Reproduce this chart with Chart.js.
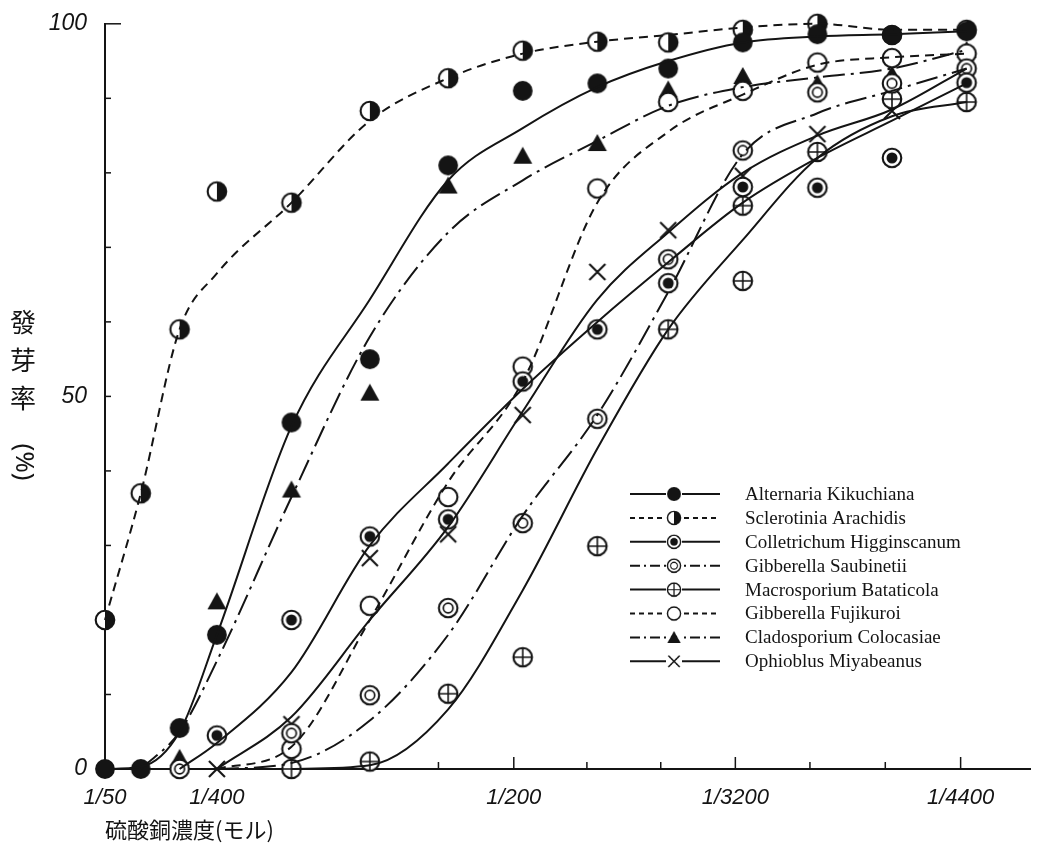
<!DOCTYPE html>
<html>
<head>
<meta charset="utf-8">
<script src="https://cdn.jsdelivr.net/npm/chart.js@4.4.1/dist/chart.umd.min.js"></script>
<style>
  html, body { margin: 0; padding: 0; background: #fff; }
  canvas { display: block; }
</style>
</head>
<body>
<canvas id="germChart" width="1045" height="851"></canvas>
<script>
// x position of every tested dilution (axis units)
const concPos = [0, 0.48, 1.0, 1.5, 2.5, 3.55, 4.6, 5.6, 6.6, 7.55, 8.55, 9.55, 10.55, 11.55];
const tickPos = [0, 1.5, 4.47, 5.48, 6.46, 7.45, 8.45, 9.45, 10.46, 11.47];
const tickLabels = ['1/50', '1/400', '', '1/200', '', '', '1/3200', '', '', '1/4400'];
const yLabels = [0, 50, 100];

const names = [
    'Alternaria Kikuchiana', 'Sclerotinia Arachidis', 'Colletrichum Higginscanum',
    'Gibberella Saubinetii', 'Macrosporium Bataticola', 'Gibberella Fujikuroi',
    'Cladosporium Colocasiae', 'Ophioblus Miyabeanus'
];

// observed germination rate (%)
const alternariaPts   = [0, 0, 5.5, 18, 46.5, 55, 81, 91, 92, 94, 97.5, 98.6, 98.5, 99];
const sclerotiniaPts  = [20, 37, 59, 77.5, 76, 88.3, 92.7, 96.4, 97.6, 97.5, 99.2, 100, 98.5, 99.2];
const colletrichumPts = [null, null, null, 4.5, 20, 31.2, 33.5, 52, 59, 65.2, 78.1, 78, 82, 92.1];
const saubinetiiPts   = [null, null, 0, null, 4.8, 9.9, 21.6, 33, 47, 68.4, 83, 90.8, 92, 94];
const macrosporiumPts = [null, null, null, null, 0, 1, 10.1, 15, 29.9, 59, 75.6, 82.8, 89.9, 89.5];
const macrosporiumExtra = [null, null, null, null, null, null, null, null, null, null, 65.5, null, null, null];
const fujikuroiPts    = [null, null, null, null, 2.7, 21.9, 36.5, 54, 77.9, 89.5, 91, 94.8, 95.4, 96];
const cladosporiumPts = [null, null, 1.5, 22.5, 37.5, 50.5, 78.3, 82.3, 84, 91.2, 93, 92, 93.2, 96.5];
const ophiobolusPts   = [null, null, null, 0, 6, 28.3, 31.5, 47.5, 66.7, 72.3, 79.6, 85.2, 88.3, 95];

// hand drawn curves of the original, read at the same dilutions
const alternariaCurve   = [0, 0.3, 5, 18, 46, 63, 79, 86, 91.5, 95, 97.5, 98.3, 98.6, 99];
const sclerotiniaCurve  = [20, 37, 59, 66.5, 76, 87, 92.7, 96, 97.6, 98.5, 99.5, 100, 99.2, 99.2];
const colletrichumCurve = [null, null, 0, 3.5, 13, 30, 41, 51, 60, 68, 76, 82, 87, 92];
const saubinetiiCurve   = [null, null, null, 0, 0.8, 6.5, 18, 34, 47.5, 64, 82.5, 88, 91, 94];
const macrosporiumCurve = [null, null, null, null, 0, 0.5, 8, 24, 43, 59, 71, 82, 87.6, 89.5];
const fujikuroiCurve    = [null, null, null, 0, 3, 20, 38.5, 52, 76, 85.5, 90.5, 94.5, 95.5, 96];
const cladosporiumCurve = [null, 0, 5, 14.5, 36.5, 58, 72, 79, 84.3, 89, 91.5, 92.8, 94, 96.5];
const ophiobolusCurve   = [null, null, null, 0, 7, 20, 32.5, 48, 63, 72, 80, 85, 88.5, 94];

const ink = '#141414';

function makeMarker(kind) {
    const c = document.createElement('canvas');
    c.width = c.height = 24;
    const g = c.getContext('2d');
    const m = 12, r = 9.3;
    g.strokeStyle = ink;
    g.fillStyle = ink;
    g.lineWidth = 2.1;
    const circle = rr => { g.beginPath(); g.arc(m, m, rr, 0, Math.PI * 2); };
    if (kind === 'dot') {
        circle(r + 0.6); g.fill();
    } else if (kind === 'tri') {
        g.beginPath(); g.moveTo(m, 3); g.lineTo(m - 9.5, m + 8); g.lineTo(m + 9.5, m + 8); g.closePath(); g.fill();
    } else if (kind === 'x') {
        g.beginPath(); g.moveTo(m - 8, m - 8); g.lineTo(m + 8, m + 8); g.moveTo(m + 8, m - 8); g.lineTo(m - 8, m + 8); g.stroke();
    } else {
        g.fillStyle = '#fff'; circle(r); g.fill();
        g.fillStyle = ink;
        if (kind === 'half') {
            g.beginPath(); g.arc(m, m, r, -Math.PI / 2, Math.PI / 2); g.closePath(); g.fill();
        }
        circle(r); g.stroke();
        if (kind === 'bull') { circle(5.5); g.fill(); }
        if (kind === 'ring') { g.lineWidth = 1.7; circle(4.8); g.stroke(); }
        if (kind === 'plus') {
            g.lineWidth = 1.6;
            g.beginPath(); g.moveTo(m - r, m); g.lineTo(m + r, m); g.moveTo(m, m - r); g.lineTo(m, m + r); g.stroke();
        }
    }
    return c;
}

const solid = [], dashed = [9, 6], dashDot = [22, 6, 3, 6];
const styles = [
    { mk: 'dot',  dash: solid,   legendDash: solid },
    { mk: 'half', dash: dashed,  legendDash: [5, 4] },
    { mk: 'bull', dash: solid,   legendDash: solid },
    { mk: 'ring', dash: dashDot, legendDash: [10, 4, 2, 4] },
    { mk: 'plus', dash: solid,   legendDash: solid },
    { mk: 'open', dash: dashed,  legendDash: [5, 4] },
    { mk: 'tri',  dash: dashDot, legendDash: [10, 4, 2, 4] },
    { mk: 'x',    dash: solid,   legendDash: solid }
];
styles.forEach(s => { s.img = makeMarker(s.mk); });

const curves = [alternariaCurve, sclerotiniaCurve, colletrichumCurve, saubinetiiCurve,
                macrosporiumCurve, fujikuroiCurve, cladosporiumCurve, ophiobolusCurve];
const points = [alternariaPts, sclerotiniaPts, colletrichumPts, saubinetiiPts,
                macrosporiumPts, fujikuroiPts, cladosporiumPts, ophiobolusPts];

const toXY = arr => concPos.map((x, i) => ({ x: x, y: arr[i] })).filter(p => p.y !== null);

const datasets = [];
curves.forEach((arr, i) => {
    datasets.push({
        label: names[i] + ' curve',
        data: toXY(arr),
        borderColor: ink,
        borderWidth: 2,
        borderDash: styles[i].dash,
        pointRadius: 0,
        cubicInterpolationMode: 'monotone',
        fill: false,
        clip: false
    });
});
points.forEach((arr, i) => {
    datasets.push({
        label: names[i],
        data: toXY(arr),
        showLine: false,
        pointStyle: styles[i].img,
        pointRadius: 10,
        clip: false
    });
});
datasets.push({
    label: names[4] + ' extra',
    data: toXY(macrosporiumExtra),
    showLine: false,
    pointStyle: styles[4].img,
    pointRadius: 10,
    clip: false
});

const decor = {
    id: 'decor',
    afterDraw(chart) {
        const { ctx, scales: { x, y } } = chart;
        ctx.save();
        ctx.strokeStyle = ink;
        ctx.fillStyle = ink;
        ctx.lineWidth = 1.5;
        ctx.setLineDash([]);
        // inward tick marks
        for (let v = 10; v <= 100; v += 10) {
            const py = y.getPixelForValue(v);
            ctx.beginPath();
            ctx.moveTo(x.left, py);
            ctx.lineTo(x.left + (v === 100 ? 16 : 6), py);
            ctx.stroke();
        }
        tickPos.forEach((v, i) => {
            if (i < 2) return;
            const px = x.getPixelForValue(v);
            ctx.beginPath();
            ctx.moveTo(px, y.bottom);
            ctx.lineTo(px, y.bottom - (tickLabels[i] ? 12 : 7));
            ctx.stroke();
        });

        // vertical y title
        ctx.font = '26px "Noto Sans CJK TC"';
        ctx.textAlign = 'center';
        ctx.textBaseline = 'middle';
        ['發', '芽', '率'].forEach((ch, i) => ctx.fillText(ch, 23, 322 + i * 38));
        ctx.save();
        ctx.translate(23, 462);
        ctx.rotate(Math.PI / 2);
        ctx.font = '26px "Noto Sans"';
        ctx.fillText('(%)', 0, 0);
        ctx.restore();

        // legend
        ctx.font = '19px "Liberation Serif"';
        ctx.textAlign = 'left';
        names.forEach((name, i) => {
            const ly = 494 + i * 23.9;
            const st = styles[i];
            ctx.lineWidth = 2;
            ctx.setLineDash(st.legendDash);
            ctx.beginPath();
            ctx.moveTo(630, ly);
            ctx.lineTo(720, ly);
            ctx.stroke();
            ctx.setLineDash([]);
            ctx.fillStyle = '#fff';
            ctx.fillRect(666, ly - 8, 16, 16);
            ctx.drawImage(st.img, 674 - 8.5, ly - 8.5, 17, 17);
            ctx.fillStyle = ink;
            ctx.fillText(name, 745, ly + 1);
        });
        ctx.restore();
    }
};

new Chart(document.getElementById('germChart').getContext('2d'), {
    type: 'line',
    data: { datasets: datasets },
    options: {
        responsive: false,
        animation: false,
        layout: { padding: { top: 19, right: 15, left: 0, bottom: 0 } },
        plugins: { legend: { display: false }, tooltip: { enabled: false } },
        scales: {
            x: {
                type: 'linear',
                min: 0,
                max: 12.4,
                afterBuildTicks: s => { s.ticks = tickPos.map(v => ({ value: v })); },
                afterFit: s => { s.height = 82; },
                grid: { display: false },
                border: { color: ink, width: 2 },
                ticks: {
                    autoSkip: false,
                    maxRotation: 0,
                    padding: 8,
                    color: ink,
                    font: { family: 'Liberation Sans', size: 22, style: 'italic' },
                    callback: (v, i) => tickLabels[i]
                },
                title: {
                    display: true,
                    text: '硫酸銅濃度(モル)',
                    align: 'start',
                    color: ink,
                    font: { family: 'Noto Sans CJK JP', size: 22 },
                    padding: { top: 0, bottom: 8 }
                }
            },
            y: {
                min: 0,
                max: 100,
                afterBuildTicks: s => { s.ticks = yLabels.map(v => ({ value: v })); },
                afterFit: s => { s.width = 105; },
                grid: { display: false },
                border: { color: ink, width: 2 },
                ticks: {
                    padding: 10,
                    color: ink,
                    font: { family: 'Liberation Sans', size: 23, style: 'italic' }
                }
            }
        }
    },
    plugins: [decor]
});
</script>
</body>
</html>
